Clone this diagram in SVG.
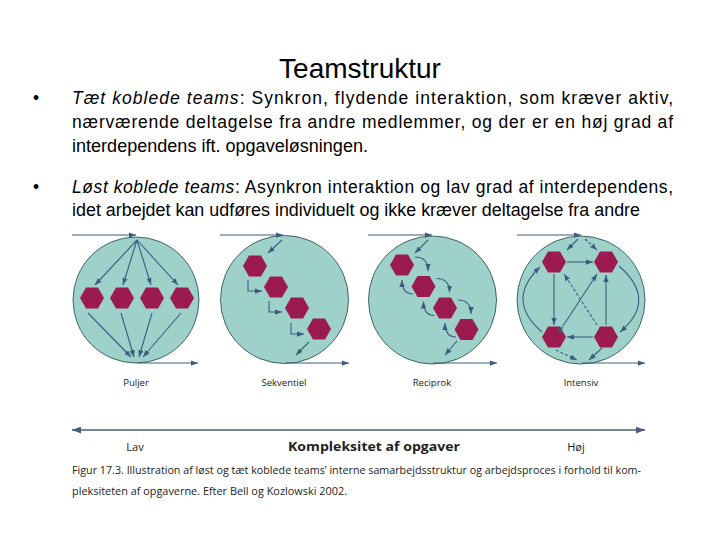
<svg xmlns="http://www.w3.org/2000/svg" width="720" height="540" viewBox="0 0 720 540">
<defs>
<style>
.t{font-family:"Liberation Sans",Arial,sans-serif;fill:#000}
.cap{font-family:"Open Sans","Liberation Sans",sans-serif;fill:#222}
.circ{fill:#9fd1cb;stroke:#3f6466;stroke-width:1}
.hex{fill:#9b1a50}
.a{fill:none;stroke:#3c5c7e;stroke-width:1.1}
.d{stroke-dasharray:3,2}
</style>
<marker id="ah" viewBox="0 0 8 6" refX="8" refY="3" markerWidth="7" markerHeight="5.5" markerUnits="userSpaceOnUse" orient="auto"><path d="M0,0L8,3L0,6z" fill="#3c5c7e"/></marker>
<marker id="ahb" viewBox="0 0 8 6" refX="8" refY="3" markerWidth="9" markerHeight="7" markerUnits="userSpaceOnUse" orient="auto-start-reverse"><path d="M0,0L8,3L0,6z" fill="#4a5b7a"/></marker>
<polygon id="hx" points="-12,0 -6,-10.5 6,-10.5 12,0 6,10.5 -6,10.5"/>
</defs>
<rect width="720" height="540" fill="#fff"/>
<g id="title"><text class="t" x="360" y="78" font-size="28" text-anchor="middle">Teamstruktur</text></g>
<g id="bullets" class="t" font-size="17.5">
<text x="33" y="104">•</text>
<text x="72" y="104" textLength="601" lengthAdjust="spacing"><tspan font-style="italic">Tæt koblede teams</tspan>: Synkron, flydende interaktion, som kræver aktiv,</text>
<text x="72" y="128" textLength="601" lengthAdjust="spacing">nærværende deltagelse fra andre medlemmer, og der er en høj grad af</text>
<text x="72" y="152" textLength="296" lengthAdjust="spacingAndGlyphs">interdependens ift. opgaveløsningen.</text>
<text x="33" y="193">•</text>
<text x="72" y="193" textLength="601" lengthAdjust="spacing"><tspan font-style="italic">Løst koblede teams</tspan>: Asynkron interaktion og lav grad af interdependens,</text>
<text x="72" y="216" textLength="568" lengthAdjust="spacingAndGlyphs">idet arbejdet kan udføres individuelt og ikke kræver deltagelse fra andre</text>
</g>
<g id="puljer">
<circle class="circ" cx="136" cy="300" r="63"/>
<use href="#hx" class="hex" x="92" y="298"/><use href="#hx" class="hex" x="122" y="298"/><use href="#hx" class="hex" x="152" y="298"/><use href="#hx" class="hex" x="182" y="298"/>
<text class="cap" x="136" y="386" font-size="9.5" text-anchor="middle">Puljer</text>
</g>
<g id="sekventiel">
<circle class="circ" cx="284.5" cy="299.5" r="64"/>
<use href="#hx" class="hex" x="255" y="266"/><use href="#hx" class="hex" x="276" y="287"/><use href="#hx" class="hex" x="297" y="308"/><use href="#hx" class="hex" x="319" y="329"/>
<text class="cap" x="284" y="386" font-size="9.5" text-anchor="middle">Sekventiel</text>
</g>
<g id="reciprok">
<circle class="circ" cx="432.5" cy="300" r="64"/>
<use href="#hx" class="hex" x="402" y="265"/><use href="#hx" class="hex" x="423.5" y="286.5"/><use href="#hx" class="hex" x="445" y="308"/><use href="#hx" class="hex" x="466.5" y="329.5"/>
<text class="cap" x="432" y="386" font-size="9.5" text-anchor="middle">Reciprok</text>
</g>
<g id="intensiv">
<circle class="circ" cx="581" cy="300" r="64"/>
<use href="#hx" class="hex" x="554" y="262"/><use href="#hx" class="hex" x="606" y="262"/><use href="#hx" class="hex" x="554" y="337"/><use href="#hx" class="hex" x="606" y="337"/>
<text class="cap" x="581" y="386" font-size="9.5" text-anchor="middle">Intensiv</text>
</g>
<g id="connectors" class="a" marker-end="url(#ah)">
<path d="M72,235H136"/>
<path d="M137,240L95,285"/><path d="M137,240L123,285"/><path d="M137,240L151,285"/><path d="M137,240L178,285"/>
<path d="M88,313L131,357"/><path d="M121,313L134,357"/><path d="M152,313L139,357"/><path d="M181,313L143,357"/>
<path d="M137,363H198"/>
<path d="M220,235H283"/>
<path d="M282,240L268,253"/>
<path d="M248,280V291H262"/><path d="M269,301V312H282"/><path d="M291,323V334H304"/>
<path d="M309,342L296,355"/>
<path d="M285,363H349"/>
<path d="M368,235H432"/>
<path d="M428,240L415,253"/>
<path d="M415,257Q428,257 428,271"/><path d="M436.5,278.5Q449.5,278.5 449.5,292.5"/><path d="M458,300Q471,300 471,314"/>
<path d="M413,294Q402,294 402,280"/><path d="M434.5,315.5Q423.5,315.5 423.5,301.5"/><path d="M456,337Q445,337 445,323"/>
<path d="M457,341L445,355"/>
<path d="M433,363H497"/>
<path d="M517,235H581"/>
<path d="M578,239L567,250"/>
<path class="d" d="M585,239L597,250"/>
<path d="M567,262H593"/>
<path d="M554,274V325"/>
<path d="M606,325V275"/>
<path d="M593,337H567"/>
<path d="M563,326L597,274" marker-start="url(#ah)"/>
<path class="d" d="M597,325L564,274"/>
<path d="M542,332Q505,300 540,267"/>
<path d="M619,266Q658,300 620,332"/>
<path class="d" d="M556,350L577,360"/>
<path d="M602,348L589,360"/>
<path d="M582,363H645"/>
</g>
<g id="axis">
<path d="M72,430H645" stroke="#4a5b7a" stroke-width="1.5" fill="none" marker-start="url(#ahb)" marker-end="url(#ahb)"/>
<text class="cap" x="135" y="451" font-size="11" text-anchor="middle">Lav</text>
<text class="cap" x="374" y="451" font-size="11.5" font-weight="bold" text-anchor="middle" textLength="172" lengthAdjust="spacingAndGlyphs">Kompleksitet af opgaver</text>
<text class="cap" x="576" y="451" font-size="11" text-anchor="middle">Høj</text>
</g>
<g id="caption" class="cap" font-size="11">
<text x="72" y="474" textLength="569" lengthAdjust="spacingAndGlyphs">Figur 17.3. Illustration af løst og tæt koblede teams’ interne samarbejdsstruktur og arbejdsproces i forhold til kom-</text>
<text x="72" y="495" textLength="275" lengthAdjust="spacingAndGlyphs">pleksiteten af opgaverne. Efter Bell og Kozlowski 2002.</text>
</g>
</svg>
